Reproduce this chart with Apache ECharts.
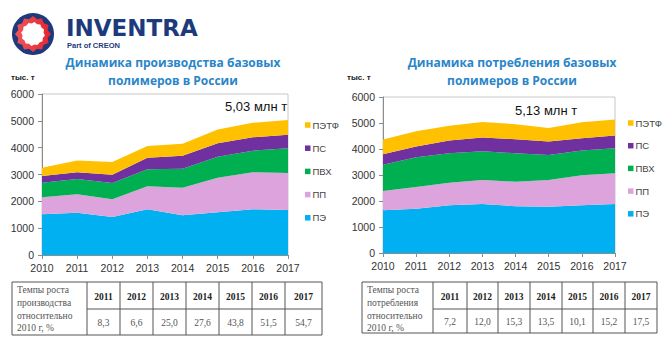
<!DOCTYPE html>
<html>
<head>
<meta charset="utf-8">
<script src="https://cdn.jsdelivr.net/npm/echarts@6/dist/echarts.min.js"></script>
<style>
html,body{margin:0;padding:0;background:#fff;}
#c{width:662px;height:341px;}
</style>
</head>
<body>
<div id="c"></div>
<script>
// ---- data ----
const years = ['2010','2011','2012','2013','2014','2015','2016','2017'];
const seriesNames = ['ПЭ','ПП','ПВХ','ПС','ПЭТФ'];
// production (thousand t)
const prodPE   = [1515,1578,1416,1702,1478,1590,1702,1677];
const prodPP   = [634,683,659,857,1031,1292,1379,1379];
const prodPVC  = [547,571,608,634,708,783,807,919];
const prodPS   = [248,249,311,434,485,496,497,509];
const prodPET  = [307,440,472,437,447,514,540,546];
// consumption (thousand t)
const consPE   = [1648,1700,1841,1880,1802,1777,1841,1880];
const consPP   = [734,836,863,927,940,1030,1146,1184];
const consPVC  = [1017,1146,1133,1107,1095,965,953,966];
const consPS   = [399,412,489,528,540,515,476,489];
const consPET  = [568,586,564,592,578,520,614,611];
// tables
const tableYears = ['2011','2012','2013','2014','2015','2016','2017'];
const prodGrowth = ['8,3','6,6','25,0','27,6','43,8','51,5','54,7'];
const consGrowth = ['7,2','12,0','15,3','13,5','10,1','15,2','17,5'];
const prodRowLabel = ['Темпы роста','производства','относительно','2010 г, %'];
const consRowLabel = ['Темпы роста','потребления','относительно','2010 г, %'];

const colors = {'ПЭ':'#00B0F0','ПП':'#DDA3DC','ПВХ':'#00B050','ПС':'#7030A0','ПЭТФ':'#FFC000'};

const chart = echarts.init(document.getElementById('c'), null, {renderer:'svg'});

function mkSeries(arrs, idx){
  return seriesNames.map((n,i)=>({
    name:n, type:'line', stack:'s'+idx, xAxisIndex:idx, yAxisIndex:idx,
    data:arrs[i], symbol:'none', lineStyle:{width:0}, smooth:false,
    areaStyle:{color:colors[n], opacity:1}, itemStyle:{color:colors[n]},
    emphasis:{disabled:true}, silent:true
  }));
}

const axisFont = {fontFamily:'Liberation Sans, Arial, sans-serif', fontSize:10.5, color:'#333'};

function xAx(gi){
  return {type:'category', gridIndex:gi, data:years, boundaryGap:false,
    axisLine:{lineStyle:{color:'#8c8c8c'}}, axisTick:{show:true, lineStyle:{color:'#8c8c8c'}, length:4},
    axisLabel:Object.assign({margin:7}, axisFont), splitLine:{show:false}};
}
function yAx(gi){
  return {type:'value', gridIndex:gi, min:0, max:6000, interval:1000,
    axisLine:{show:true, lineStyle:{color:'#8c8c8c'}}, axisTick:{show:true, lineStyle:{color:'#8c8c8c'}, length:4},
    axisLabel:Object.assign({margin:8, formatter:(v)=>String(v)}, axisFont), splitLine:{show:false}};
}

function legend(left, top, gap){
  return {orient:'vertical', left:left, top:top, itemWidth:5.5, itemHeight:5.5, itemGap:gap,
    icon:'rect', data:seriesNames.slice().reverse(), selectedMode:false,
    textStyle:{fontFamily:'Liberation Sans, Arial, sans-serif', fontSize:9.5, color:'#444', padding:[0,0,0,-3]}};
}

// ---- graphic (logo, titles, tables) ----
const G = [];
// logo
G.push({type:'circle', shape:{cx:33, cy:34, r:21}, style:{fill:'#1d3a7c'}, silent:true});
(function(){
  const pts=[]; const n=12, cx=33, cy=34;
  for(let i=0;i<n*2;i++){
    const a = Math.PI*2*i/(n*2) - Math.PI/2;
    const r = (i%2===0)?18:15.2;
    pts.push([cx+r*Math.cos(a), cy+r*Math.sin(a)]);
  }
  G.push({type:'polygon', shape:{points:pts}, style:{fill:{type:'linear',x:0,y:0,x2:1,y2:0,colorStops:[{offset:0,color:'#f2555a'},{offset:1,color:'#e3262f'}]}}, silent:true});
  const pts2=[];
  for(let i=0;i<n*2;i++){
    const a = Math.PI*2*i/(n*2) - Math.PI/2 + Math.PI/(n*2);
    const r = (i%2===0)?12:10.6;
    pts2.push([cx+r*Math.cos(a), cy+r*Math.sin(a)]);
  }
  G.push({type:'polygon', shape:{points:pts2}, style:{fill:'#ffffff'}, silent:true});
})();
G.push({type:'text', x:66, y:27.5, style:{text:'INVENTRA', fill:'#1d3a7c', font:'bold 23px "DejaVu Sans", Arial, sans-serif', verticalAlign:'middle', lineHeight:18}, silent:true});
G.push({type:'text', x:67, y:45, style:{text:'Part of CREON', fill:'#1d3a7c', font:'bold 7.5px "Liberation Sans", Arial, sans-serif', verticalAlign:'middle', lineHeight:8}, silent:true});

// titles
const titleFont = 'bold 12px "Open Sans", "Liberation Sans", sans-serif';
function title(cx, lines, y0){
  lines.forEach((t,i)=>G.push({type:'text', x:cx, y:y0+i*18, style:{text:t, fill:'#2a85c9', font:titleFont, align:'center', verticalAlign:'middle'}, silent:true}));
}
title(173, ['Динамика производства базовых','полимеров в России'], 62);
title(512, ['Динамика потребления базовых','полимеров в России'], 62);
// units
G.push({type:'text', x:11, y:77, style:{text:'тыс. т', fill:'#222', font:'bold 8px "Liberation Sans", Arial, sans-serif', verticalAlign:'middle'}, silent:true});
G.push({type:'text', x:347, y:77, style:{text:'тыс. т', fill:'#222', font:'bold 8px "Liberation Sans", Arial, sans-serif', verticalAlign:'middle'}, silent:true});
// totals annotations
G.push({type:'text', x:225, y:106, style:{text:'5,03 млн т', fill:'#111', font:'13px "Liberation Sans", Arial, sans-serif', verticalAlign:'middle'}, silent:true});
G.push({type:'text', x:515, y:110, style:{text:'5,13 млн т', fill:'#111', font:'13px "Liberation Sans", Arial, sans-serif', verticalAlign:'middle'}, silent:true});

// tables
function table(cols, top, bottom, mid, labelLines, vals){
  const L = cols[0], R = cols[cols.length-1];
  G.push({type:'rect', shape:{x:L, y:top, width:R-L, height:bottom-top}, style:{fill:'none', stroke:'#555', lineWidth:1}, silent:true});
  for(let i=1;i<cols.length-1;i++){
    G.push({type:'line', shape:{x1:cols[i], y1:top, x2:cols[i], y2:bottom}, style:{stroke:'#555', lineWidth:1}, silent:true});
  }
  G.push({type:'line', shape:{x1:cols[1], y1:mid, x2:R, y2:mid}, style:{stroke:'#555', lineWidth:1}, silent:true});
  labelLines.forEach((t,i)=>G.push({type:'text', x:L+5, y:top+8+i*12.8, style:{text:t, fill:'#555', font:'9.5px "Liberation Serif", "DejaVu Serif", serif', verticalAlign:'middle'}, silent:true}));
  for(let i=0;i<tableYears.length;i++){
    const cx = (cols[i+1]+cols[i+2])/2;
    G.push({type:'text', x:cx, y:(top+mid)/2+1, style:{text:tableYears[i], fill:'#222', font:'bold 9.5px "Liberation Serif", "DejaVu Serif", serif', align:'center', verticalAlign:'middle'}, silent:true});
    G.push({type:'text', x:cx, y:(mid+bottom)/2+1, style:{text:vals[i], fill:'#555', font:'9.5px "Liberation Serif", "DejaVu Serif", serif', align:'center', verticalAlign:'middle'}, silent:true});
  }
}
table([12,87,120,153,186,219,252,285,322], 282, 335, 309, prodRowLabel, prodGrowth);
table([362,433,467,498,530,562,593,625,657], 282, 333, 309, consRowLabel, consGrowth);

const option = {
  animation:false,
  backgroundColor:'#fff',
  grid:[
    {left:42, right:374, top:94, bottom:86, show:true, borderColor:'#c8c8c8', borderWidth:1, backgroundColor:'transparent'},
    {left:383, right:47, top:97, bottom:88, show:true, borderColor:'#c8c8c8', borderWidth:1, backgroundColor:'transparent'}
  ],
  xAxis:[xAx(0), xAx(1)],
  yAxis:[yAx(0), yAx(1)],
  legend:[legend(300, 115, 13.2), legend(623, 113, 12.7)],
  series:[].concat(mkSeries([prodPE,prodPP,prodPVC,prodPS,prodPET],0), mkSeries([consPE,consPP,consPVC,consPS,consPET],1)),
  graphic:G
};
chart.setOption(option);
</script>
</body>
</html>
